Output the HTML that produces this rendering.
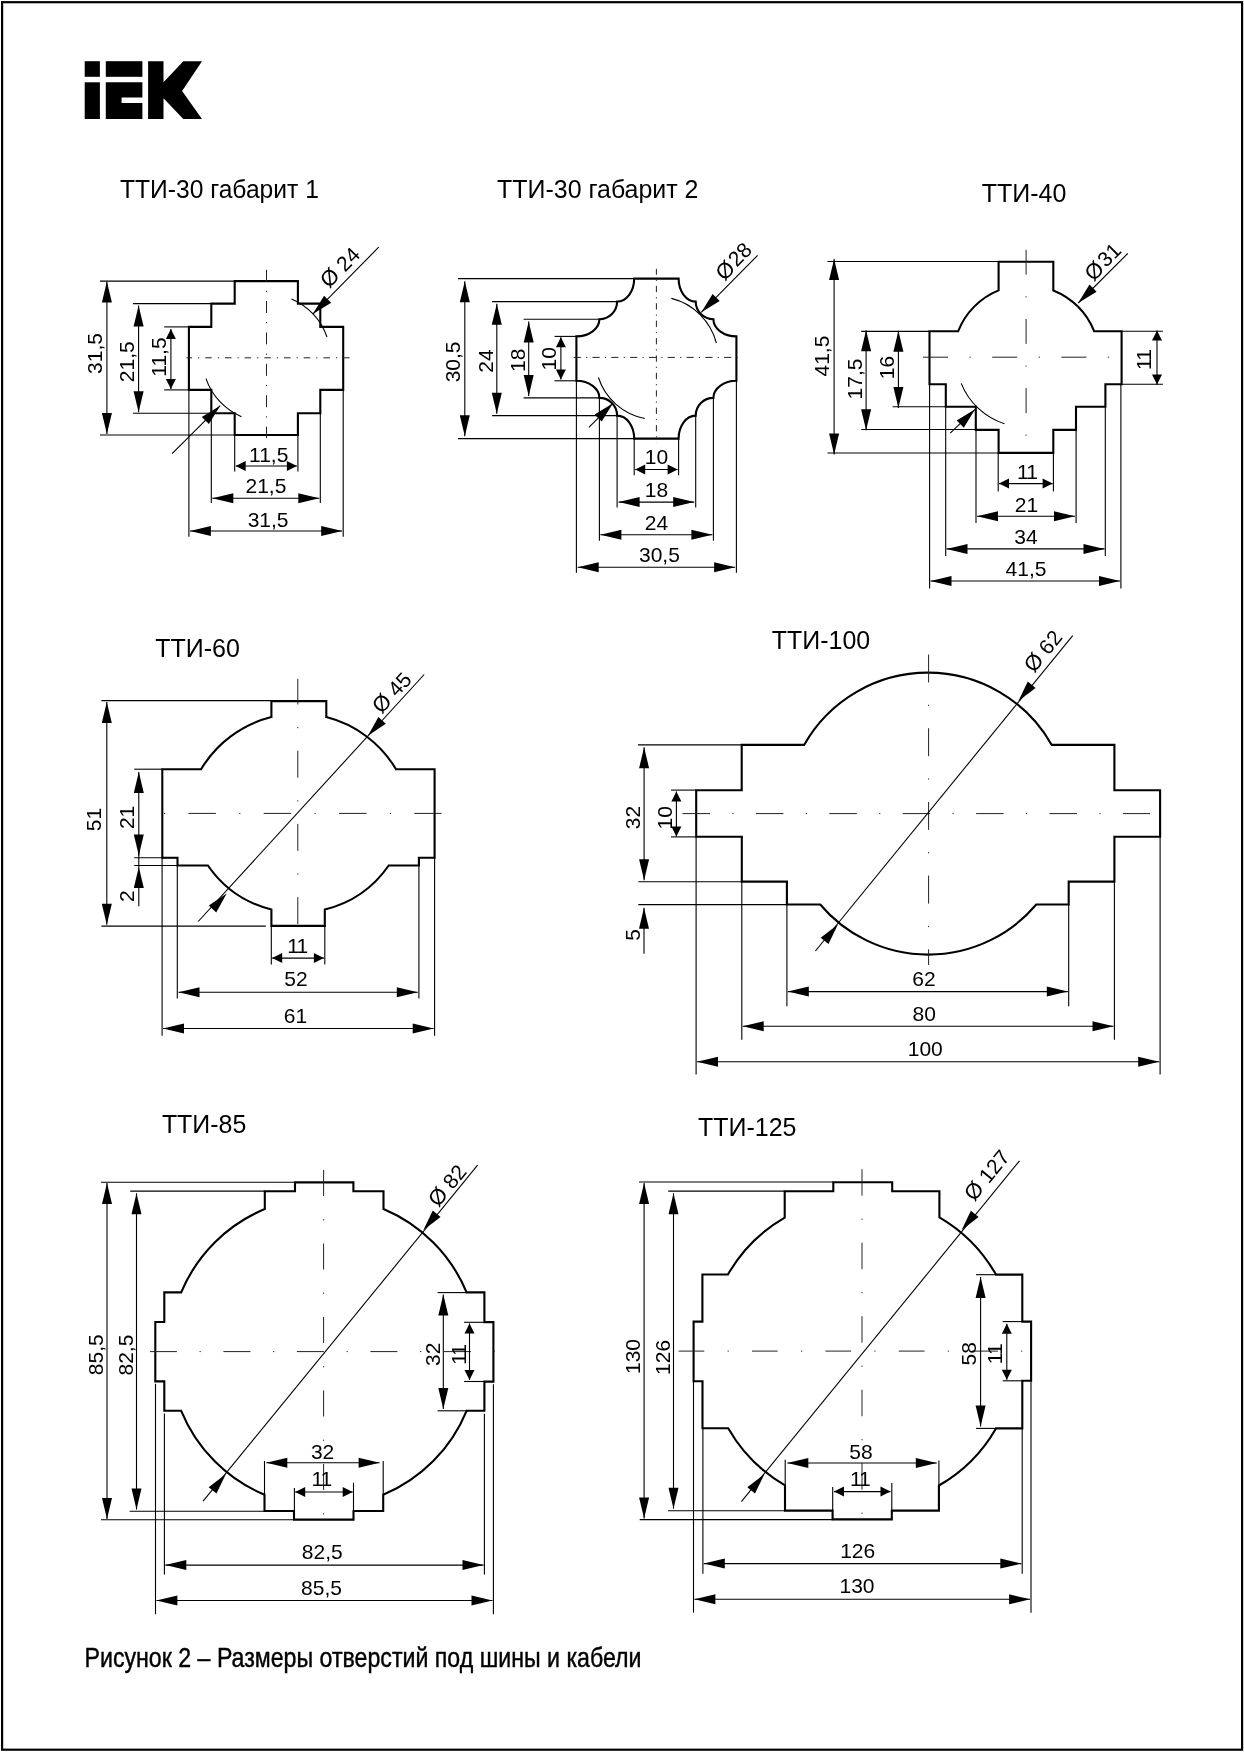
<!DOCTYPE html>
<html><head><meta charset="utf-8"><style>
html,body{margin:0;padding:0;background:#fff;}
svg{display:block;filter:grayscale(100%);}
text{font-family:"Liberation Sans",sans-serif;fill:#000;stroke:none;}
</style></head><body>
<svg width="1244" height="1752" viewBox="0 0 1244 1752">
<g stroke="#000" fill="none" stroke-linecap="butt">
<rect x="2.1" y="2.2" width="1240" height="1747.5" stroke-width="2.2"/>
<g fill="#000" stroke="none">
<rect x="84.7" y="61.2" width="15.2" height="15.6"/>
<rect x="84.7" y="82.3" width="15.2" height="36.7"/>
<rect x="105.8" y="61.2" width="36.6" height="15.6"/>
<path d="M105.8,82.3H142.4V97.6H121.6V103H142.4V119H105.8Z"/>
<path d="M148.1,61.2H163.5V82.3L183.3,61.2H202L182.1,91L202,119H183.3L163.5,98.2V119H148.1Z"/>
</g>
<text x="84.5" y="1667.1" font-size="28.3" textLength="557" lengthAdjust="spacingAndGlyphs" style="stroke:#000;stroke-width:0.45">Рисунок 2 – Размеры отверстий под шины и кабели</text>
<text x="120.0" y="197.9" font-size="26" textLength="198.9" lengthAdjust="spacingAndGlyphs">ТТИ-30 габарит 1</text>
<polygon points="234.7,281.1 297.9,281.1 297.9,303.6 320.3,303.6 320.3,326.9 343.2,326.9 343.2,389.9 320.3,389.9 320.3,413.3 297.9,413.3 297.9,435.0 234.7,435.0 234.7,413.3 211.3,413.3 211.3,389.9 188.9,389.9 188.9,326.9 211.3,326.9 211.3,303.6 234.7,303.6" stroke-width="2.1" fill="none"/>
<line x1="266.5" y1="269.8" x2="266.5" y2="438.0" stroke="#222" stroke-width="1.0" stroke-dasharray="12 9.1 1.2 9.1" stroke-dashoffset="-31.20"/>
<line x1="186.5" y1="357.8" x2="355.3" y2="357.8" stroke="#222" stroke-width="1.0" stroke-dasharray="6.5 6 1.2 6" stroke-dashoffset="-18.75"/>
<line x1="100.0" y1="281.1" x2="234.7" y2="281.1" stroke-width="1.1"/>
<line x1="100.0" y1="435.0" x2="234.7" y2="435.0" stroke-width="1.1"/>
<line x1="106.9" y1="281.6" x2="106.9" y2="434.0" stroke-width="1.1"/>
<polygon points="106.9,281.6 111.9,302.6 101.9,302.6" stroke="none" fill="#000"/>
<polygon points="106.9,434.0 101.9,413.0 111.9,413.0" stroke="none" fill="#000"/>
<line x1="132.9" y1="303.6" x2="211.3" y2="303.6" stroke-width="1.1"/>
<line x1="132.9" y1="413.3" x2="211.3" y2="413.3" stroke-width="1.1"/>
<line x1="138.6" y1="305.6" x2="138.6" y2="412.3" stroke-width="1.1"/>
<polygon points="138.6,305.6 143.6,326.6 133.6,326.6" stroke="none" fill="#000"/>
<polygon points="138.6,412.3 133.6,391.3 143.6,391.3" stroke="none" fill="#000"/>
<line x1="164.2" y1="326.9" x2="188.9" y2="326.9" stroke-width="1.1"/>
<line x1="164.2" y1="389.9" x2="188.9" y2="389.9" stroke-width="1.1"/>
<line x1="170.9" y1="328.9" x2="170.9" y2="388.9" stroke-width="1.1"/>
<polygon points="170.9,328.9 175.9,338.9 165.9,338.9" stroke="none" fill="#000"/>
<polygon points="170.9,388.9 165.9,378.9 175.9,378.9" stroke="none" fill="#000"/>
<text x="102.1" y="353.5" font-size="21" text-anchor="middle" transform="rotate(-90 102.1 353.5)">31,5</text>
<text x="133.9" y="361.7" font-size="21" text-anchor="middle" transform="rotate(-90 133.9 361.7)">21,5</text>
<text x="166.3" y="357.0" font-size="21" text-anchor="middle" transform="rotate(-90 166.3 357.0)">11,5</text>
<line x1="234.7" y1="435.0" x2="234.7" y2="471.6" stroke-width="1.1"/>
<line x1="297.9" y1="435.0" x2="297.9" y2="471.6" stroke-width="1.1"/>
<line x1="235.7" y1="466.0" x2="296.9" y2="466.0" stroke-width="1.1"/>
<polygon points="235.7,466.0 245.7,461.0 245.7,471.0" stroke="none" fill="#000"/>
<polygon points="296.9,466.0 286.9,471.0 286.9,461.0" stroke="none" fill="#000"/>
<line x1="211.3" y1="413.3" x2="211.3" y2="503.1" stroke-width="1.1"/>
<line x1="320.3" y1="413.3" x2="320.3" y2="503.1" stroke-width="1.1"/>
<line x1="212.3" y1="498.3" x2="319.3" y2="498.3" stroke-width="1.1"/>
<polygon points="212.3,498.3 233.3,493.3 233.3,503.3" stroke="none" fill="#000"/>
<polygon points="319.3,498.3 298.3,503.3 298.3,493.3" stroke="none" fill="#000"/>
<line x1="188.9" y1="389.9" x2="188.9" y2="536.7" stroke-width="1.1"/>
<line x1="343.2" y1="389.9" x2="343.2" y2="536.7" stroke-width="1.1"/>
<line x1="189.9" y1="531.0" x2="342.2" y2="531.0" stroke-width="1.1"/>
<polygon points="189.9,531.0 210.9,526.0 210.9,536.0" stroke="none" fill="#000"/>
<polygon points="342.2,531.0 321.2,536.0 321.2,526.0" stroke="none" fill="#000"/>
<text x="268.7" y="461.6" font-size="21" text-anchor="middle">11,5</text>
<text x="265.9" y="492.9" font-size="21" text-anchor="middle">21,5</text>
<text x="268.1" y="526.5" font-size="21" text-anchor="middle">31,5</text>
<path d="M291.5,298.9 A64.0,64.0 0 0 1 327.0,337.0" stroke-width="1.1" fill="none"/>
<path d="M241.5,416.7 A64.0,64.0 0 0 1 206.0,378.6" stroke-width="1.1" fill="none"/>
<line x1="378.7" y1="247.2" x2="312.8" y2="314.1" stroke-width="1.1"/>
<polygon points="312.8,314.1 324.1,295.7 331.2,302.8" stroke="none" fill="#000"/>
<line x1="172.1" y1="453.6" x2="220.2" y2="405.7" stroke-width="1.1"/>
<polygon points="220.2,405.7 208.9,424.1 201.8,417.0" stroke="none" fill="#000"/>
<text transform="translate(340.2,267.6) rotate(-45.4)" x="0" y="7" font-size="21" text-anchor="middle"><tspan font-size="22">Ø</tspan> 24</text>
<text x="497.1" y="198.3" font-size="26" textLength="201.4" lengthAdjust="spacingAndGlyphs">ТТИ-30 габарит 2</text>
<path d="M634.2,278.6 H678.6 A17.1,23.0 0 0 0 695.7,301.6 A17.7,17.7 0 0 0 713.4,319.3 A23.0,17.1 0 0 0 736.4,336.4 V380.8 A23.0,17.1 0 0 0 713.4,397.9 A17.7,17.7 0 0 0 695.7,415.6 A17.1,23.0 0 0 0 678.6,438.6 H634.2 A17.1,23.0 0 0 0 617.1,415.6 A17.7,17.7 0 0 0 599.4,397.9 A23.0,17.1 0 0 0 576.4,380.8 V336.4 A23.0,17.1 0 0 0 599.4,319.3 A17.7,17.7 0 0 0 617.1,301.6 A17.1,23.0 0 0 0 634.2,278.6 Z" stroke-width="2.1" fill="none"/>
<line x1="656.4" y1="268.9" x2="656.4" y2="442.6" stroke="#222" stroke-width="1.0" stroke-dasharray="6.3 4.95 1.2 4.95" stroke-dashoffset="-16.95"/>
<line x1="572.6" y1="357.4" x2="737.9" y2="357.4" stroke="#222" stroke-width="1.0" stroke-dasharray="7.2 5.2 1.2 5.2" stroke-dashoffset="-1.10"/>
<line x1="458.0" y1="278.6" x2="634.2" y2="278.6" stroke-width="1.1"/>
<line x1="458.0" y1="438.6" x2="634.2" y2="438.6" stroke-width="1.1"/>
<line x1="492.1" y1="301.6" x2="617.1" y2="301.6" stroke-width="1.1"/>
<line x1="492.1" y1="415.6" x2="617.1" y2="415.6" stroke-width="1.1"/>
<line x1="523.6" y1="319.3" x2="599.4" y2="319.3" stroke-width="1.1"/>
<line x1="523.6" y1="397.9" x2="599.4" y2="397.9" stroke-width="1.1"/>
<line x1="554.5" y1="336.4" x2="576.4" y2="336.4" stroke-width="1.1"/>
<line x1="554.5" y1="380.8" x2="576.4" y2="380.8" stroke-width="1.1"/>
<line x1="464.8" y1="281.2" x2="464.8" y2="436.2" stroke-width="1.1"/>
<polygon points="464.8,281.2 469.8,302.2 459.8,302.2" stroke="none" fill="#000"/>
<polygon points="464.8,436.2 459.8,415.2 469.8,415.2" stroke="none" fill="#000"/>
<line x1="496.8" y1="303.7" x2="496.8" y2="413.7" stroke-width="1.1"/>
<polygon points="496.8,303.7 501.8,324.7 491.8,324.7" stroke="none" fill="#000"/>
<polygon points="496.8,413.7 491.8,392.7 501.8,392.7" stroke="none" fill="#000"/>
<line x1="528.7" y1="321.5" x2="528.7" y2="396.1" stroke-width="1.1"/>
<polygon points="528.7,321.5 533.7,342.5 523.7,342.5" stroke="none" fill="#000"/>
<polygon points="528.7,396.1 523.7,375.1 533.7,375.1" stroke="none" fill="#000"/>
<line x1="560.9" y1="337.2" x2="560.9" y2="379.6" stroke-width="1.1"/>
<polygon points="560.9,337.2 565.9,347.2 555.9,347.2" stroke="none" fill="#000"/>
<polygon points="560.9,379.6 555.9,369.6 565.9,369.6" stroke="none" fill="#000"/>
<text x="460.0" y="361.9" font-size="21" text-anchor="middle" transform="rotate(-90 460.0 361.9)">30,5</text>
<text x="492.7" y="361.0" font-size="21" text-anchor="middle" transform="rotate(-90 492.7 361.0)">24</text>
<text x="524.9" y="360.3" font-size="21" text-anchor="middle" transform="rotate(-90 524.9 360.3)">18</text>
<text x="556.4" y="358.7" font-size="21" text-anchor="middle" transform="rotate(-90 556.4 358.7)">10</text>
<line x1="634.2" y1="438.6" x2="634.2" y2="475.2" stroke-width="1.1"/>
<line x1="678.6" y1="438.6" x2="678.6" y2="475.2" stroke-width="1.1"/>
<line x1="617.1" y1="415.6" x2="617.1" y2="507.4" stroke-width="1.1"/>
<line x1="695.7" y1="415.6" x2="695.7" y2="507.4" stroke-width="1.1"/>
<line x1="599.4" y1="397.9" x2="599.4" y2="540.7" stroke-width="1.1"/>
<line x1="713.4" y1="397.9" x2="713.4" y2="540.7" stroke-width="1.1"/>
<line x1="576.4" y1="380.8" x2="576.4" y2="572.8" stroke-width="1.1"/>
<line x1="736.4" y1="380.8" x2="736.4" y2="572.8" stroke-width="1.1"/>
<line x1="635.2" y1="469.5" x2="677.6" y2="469.5" stroke-width="1.1"/>
<polygon points="635.2,469.5 645.2,464.5 645.2,474.5" stroke="none" fill="#000"/>
<polygon points="677.6,469.5 667.6,474.5 667.6,464.5" stroke="none" fill="#000"/>
<line x1="618.6" y1="502.1" x2="694.2" y2="502.1" stroke-width="1.1"/>
<polygon points="618.6,502.1 639.6,497.1 639.6,507.1" stroke="none" fill="#000"/>
<polygon points="694.2,502.1 673.2,507.1 673.2,497.1" stroke="none" fill="#000"/>
<line x1="600.4" y1="534.7" x2="712.4" y2="534.7" stroke-width="1.1"/>
<polygon points="600.4,534.7 621.4,529.7 621.4,539.7" stroke="none" fill="#000"/>
<polygon points="712.4,534.7 691.4,539.7 691.4,529.7" stroke="none" fill="#000"/>
<line x1="577.7" y1="567.2" x2="735.1" y2="567.2" stroke-width="1.1"/>
<polygon points="577.7,567.2 598.7,562.2 598.7,572.2" stroke="none" fill="#000"/>
<polygon points="735.1,567.2 714.1,572.2 714.1,562.2" stroke="none" fill="#000"/>
<text x="656.4" y="464.3" font-size="21" text-anchor="middle">10</text>
<text x="656.4" y="497.3" font-size="21" text-anchor="middle">18</text>
<text x="656.4" y="530.2" font-size="21" text-anchor="middle">24</text>
<text x="659.4" y="561.6" font-size="21" text-anchor="middle">30,5</text>
<path d="M671.4,298.4 A62.0,62.0 0 0 1 716.4,343.0" stroke-width="1.1" fill="none"/>
<path d="M644.8,418.5 A61.0,61.0 0 0 1 598.4,377.5" stroke-width="1.1" fill="none"/>
<line x1="757.6" y1="255.4" x2="701.3" y2="312.3" stroke-width="1.1"/>
<polygon points="701.3,312.3 712.6,293.9 719.7,301.0" stroke="none" fill="#000"/>
<line x1="588.9" y1="427.3" x2="613.0" y2="403.2" stroke-width="1.1"/>
<polygon points="613.0,403.2 601.7,421.6 594.6,414.5" stroke="none" fill="#000"/>
<text transform="translate(734.2,261.9) rotate(-45.3)" x="0" y="7" font-size="21" text-anchor="middle"><tspan font-size="22">Ø</tspan><tspan dx="1.5" dy="-1">28</tspan></text>
<text x="981.7" y="202.4" font-size="26" textLength="84.7" lengthAdjust="spacingAndGlyphs">ТТИ-40</text>
<path d="M998.6,261.7 H1053.3 V290.4 A72.5,72.5 0 0 1 1094.1,331.2 H1121.6 V384.3 H1105.4 V406.7 H1076 V429.9 H1053.3 V452.9 H998.6 V429.9 H975.8 V406.7 H945.8 V384.3 H929.5 V331.2 H958.2 A72.5,72.5 0 0 1 998.6,290.4 Z" stroke-width="2.1" fill="none"/>
<line x1="1026.1" y1="249.8" x2="1026.1" y2="452.9" stroke="#222" stroke-width="1.0" stroke-dasharray="25 21.5 1.2 21.5" stroke-dashoffset="-69.10"/>
<line x1="919.8" y1="357.2" x2="1113.0" y2="357.2" stroke="#222" stroke-width="1.0" stroke-dasharray="25 21.5 1.2 21.5" stroke-dashoffset="-3.20"/>
<line x1="827.5" y1="261.5" x2="998.6" y2="261.5" stroke-width="1.1"/>
<line x1="827.5" y1="453.0" x2="998.6" y2="453.0" stroke-width="1.1"/>
<line x1="834.1" y1="259.0" x2="834.1" y2="454.5" stroke-width="1.1"/>
<polygon points="834.1,259.0 839.1,280.0 829.1,280.0" stroke="none" fill="#000"/>
<polygon points="834.1,454.5 829.1,433.5 839.1,433.5" stroke="none" fill="#000"/>
<line x1="861.2" y1="331.4" x2="929.5" y2="331.4" stroke-width="1.1"/>
<line x1="861.2" y1="429.5" x2="998.6" y2="429.5" stroke-width="1.1"/>
<line x1="866.1" y1="330.2" x2="866.1" y2="430.3" stroke-width="1.1"/>
<polygon points="866.1,330.2 871.1,351.2 861.1,351.2" stroke="none" fill="#000"/>
<polygon points="866.1,430.3 861.1,409.3 871.1,409.3" stroke="none" fill="#000"/>
<line x1="892.6" y1="406.8" x2="945.8" y2="406.8" stroke-width="1.1"/>
<line x1="898.4" y1="330.8" x2="898.4" y2="408.0" stroke-width="1.1"/>
<polygon points="898.4,330.8 903.4,351.8 893.4,351.8" stroke="none" fill="#000"/>
<polygon points="898.4,408.0 893.4,387.0 903.4,387.0" stroke="none" fill="#000"/>
<text x="829.3" y="356.1" font-size="21" text-anchor="middle" transform="rotate(-90 829.3 356.1)">41,5</text>
<text x="861.9" y="379.0" font-size="21" text-anchor="middle" transform="rotate(-90 861.9 379.0)">17,5</text>
<text x="893.8" y="367.5" font-size="21" text-anchor="middle" transform="rotate(-90 893.8 367.5)">16</text>
<line x1="1121.6" y1="331.2" x2="1162.9" y2="331.2" stroke-width="1.1"/>
<line x1="1121.6" y1="384.3" x2="1162.9" y2="384.3" stroke-width="1.1"/>
<line x1="1157.0" y1="330.5" x2="1157.0" y2="384.5" stroke-width="1.1"/>
<polygon points="1157.0,330.5 1162.0,340.5 1152.0,340.5" stroke="none" fill="#000"/>
<polygon points="1157.0,384.5 1152.0,374.5 1162.0,374.5" stroke="none" fill="#000"/>
<text x="1151.4" y="360.5" font-size="21" text-anchor="middle" transform="rotate(-90 1150.9 360.5)" letter-spacing="-1">11</text>
<line x1="998.2" y1="452.9" x2="998.2" y2="491.5" stroke-width="1.1"/>
<line x1="1053.4" y1="452.9" x2="1053.4" y2="491.5" stroke-width="1.1"/>
<line x1="999.0" y1="483.6" x2="1052.6" y2="483.6" stroke-width="1.1"/>
<polygon points="999.0,483.6 1009.0,478.6 1009.0,488.6" stroke="none" fill="#000"/>
<polygon points="1052.6,483.6 1042.6,488.6 1042.6,478.6" stroke="none" fill="#000"/>
<line x1="976.0" y1="429.9" x2="976.0" y2="523.1" stroke-width="1.1"/>
<line x1="1076.1" y1="429.9" x2="1076.1" y2="523.1" stroke-width="1.1"/>
<line x1="977.0" y1="516.3" x2="1075.0" y2="516.3" stroke-width="1.1"/>
<polygon points="977.0,516.3 998.0,511.3 998.0,521.3" stroke="none" fill="#000"/>
<polygon points="1075.0,516.3 1054.0,521.3 1054.0,511.3" stroke="none" fill="#000"/>
<line x1="945.7" y1="406.7" x2="945.7" y2="556.1" stroke-width="1.1"/>
<line x1="1105.3" y1="406.7" x2="1105.3" y2="556.1" stroke-width="1.1"/>
<line x1="946.5" y1="548.9" x2="1104.5" y2="548.9" stroke-width="1.1"/>
<polygon points="946.5,548.9 967.5,543.9 967.5,553.9" stroke="none" fill="#000"/>
<polygon points="1104.5,548.9 1083.5,553.9 1083.5,543.9" stroke="none" fill="#000"/>
<line x1="929.6" y1="384.3" x2="929.6" y2="588.5" stroke-width="1.1"/>
<line x1="1120.9" y1="384.3" x2="1120.9" y2="588.5" stroke-width="1.1"/>
<line x1="930.5" y1="581.0" x2="1120.0" y2="581.0" stroke-width="1.1"/>
<polygon points="930.5,581.0 951.5,576.0 951.5,586.0" stroke="none" fill="#000"/>
<polygon points="1120.0,581.0 1099.0,586.0 1099.0,576.0" stroke="none" fill="#000"/>
<text x="1027.0" y="479.2" font-size="21" text-anchor="middle" letter-spacing="-1">11</text>
<text x="1026.5" y="511.7" font-size="21" text-anchor="middle">21</text>
<text x="1026.0" y="544.3" font-size="21" text-anchor="middle">34</text>
<text x="1026.0" y="576.4" font-size="21" text-anchor="middle">41,5</text>
<path d="M1004.5,423.8 A70.0,70.0 0 0 1 961.2,383.4" stroke-width="1.1" fill="none"/>
<line x1="1127.7" y1="253.5" x2="1078.2" y2="303.0" stroke-width="1.1"/>
<polygon points="1078.2,303.0 1089.5,284.6 1096.6,291.7" stroke="none" fill="#000"/>
<line x1="950.2" y1="433.2" x2="975.1" y2="409.3" stroke-width="1.1"/>
<polygon points="975.1,409.3 963.8,427.7 956.7,420.6" stroke="none" fill="#000"/>
<text transform="translate(1103.4,262.4) rotate(-45)" x="0" y="7" font-size="21" text-anchor="middle"><tspan font-size="22">Ø</tspan><tspan dx="1.5" dy="-1">31</tspan></text>
<text x="155.2" y="657" font-size="26" textLength="84.7" lengthAdjust="spacingAndGlyphs">ТТИ-60</text>
<path d="M271.4,701.1 H326.3 V717.1 A114,114 0 0 1 396,769.2 H434.6 V857.7 H418.9 V865.5 H388.7 A109.4,109.4 0 0 1 324.8,909.5 V925.9 H271.4 V909.5 A109.4,109.4 0 0 1 207.9,865.5 H177.5 V857.7 H162.3 V769.2 H201.1 A114,114 0 0 1 271.4,717.1 Z" stroke-width="2.1" fill="none"/>
<line x1="297.8" y1="678.8" x2="297.8" y2="926.0" stroke="#222" stroke-width="1.0" stroke-dasharray="27 22.5 1.2 22.5" stroke-dashoffset="-71.90"/>
<line x1="160.0" y1="813.4" x2="441.6" y2="813.4" stroke="#222" stroke-width="1.0" stroke-dasharray="27.5 23.3 1.2 23.3" stroke-dashoffset="-28.40"/>
<line x1="101.4" y1="700.6" x2="271.4" y2="700.6" stroke-width="1.1"/>
<line x1="101.4" y1="926.1" x2="265.8" y2="926.1" stroke-width="1.1"/>
<line x1="106.8" y1="702.1" x2="106.8" y2="924.7" stroke-width="1.1"/>
<polygon points="106.8,702.1 111.8,723.1 101.8,723.1" stroke="none" fill="#000"/>
<polygon points="106.8,924.7 101.8,903.7 111.8,903.7" stroke="none" fill="#000"/>
<line x1="134.2" y1="769.2" x2="162.3" y2="769.2" stroke-width="1.1"/>
<line x1="134.2" y1="857.7" x2="177.5" y2="857.7" stroke-width="1.1"/>
<line x1="134.2" y1="865.5" x2="177.5" y2="865.5" stroke-width="1.1"/>
<line x1="138.8" y1="772.0" x2="138.8" y2="855.5" stroke-width="1.1"/>
<polygon points="138.8,772.0 143.8,793.0 133.8,793.0" stroke="none" fill="#000"/>
<polygon points="138.8,855.5 133.8,834.5 143.8,834.5" stroke="none" fill="#000"/>
<line x1="138.8" y1="850.0" x2="138.8" y2="906.2" stroke-width="1.1"/>
<polygon points="138.8,866.9 143.8,887.9 133.8,887.9" stroke="none" fill="#000"/>
<text x="100.7" y="819.5" font-size="21" text-anchor="middle" transform="rotate(-90 100.7 819.5)">51</text>
<text x="134.2" y="817.4" font-size="21" text-anchor="middle" transform="rotate(-90 134.2 817.4)">21</text>
<text x="134.2" y="896.2" font-size="21" text-anchor="middle" transform="rotate(-90 134.2 896.2)">2</text>
<line x1="271.3" y1="925.9" x2="271.3" y2="964.6" stroke-width="1.1"/>
<line x1="324.8" y1="925.9" x2="324.8" y2="964.6" stroke-width="1.1"/>
<line x1="272.2" y1="958.1" x2="323.9" y2="958.1" stroke-width="1.1"/>
<polygon points="272.2,958.1 282.2,953.1 282.2,963.1" stroke="none" fill="#000"/>
<polygon points="323.9,958.1 313.9,963.1 313.9,953.1" stroke="none" fill="#000"/>
<line x1="177.3" y1="865.5" x2="177.3" y2="998.4" stroke-width="1.1"/>
<line x1="418.9" y1="857.7" x2="418.9" y2="998.4" stroke-width="1.1"/>
<line x1="178.5" y1="992.3" x2="417.8" y2="992.3" stroke-width="1.1"/>
<polygon points="178.5,992.3 199.5,987.3 199.5,997.3" stroke="none" fill="#000"/>
<polygon points="417.8,992.3 396.8,997.3 396.8,987.3" stroke="none" fill="#000"/>
<line x1="162.1" y1="857.7" x2="162.1" y2="1035.8" stroke-width="1.1"/>
<line x1="434.6" y1="857.7" x2="434.6" y2="1035.8" stroke-width="1.1"/>
<line x1="163.0" y1="1028.5" x2="433.7" y2="1028.5" stroke-width="1.1"/>
<polygon points="163.0,1028.5 184.0,1023.5 184.0,1033.5" stroke="none" fill="#000"/>
<polygon points="433.7,1028.5 412.7,1033.5 412.7,1023.5" stroke="none" fill="#000"/>
<text x="297.2" y="952.6" font-size="21" text-anchor="middle" letter-spacing="-1">11</text>
<text x="295.9" y="986.3" font-size="21" text-anchor="middle">52</text>
<text x="295.5" y="1022.5" font-size="21" text-anchor="middle">61</text>
<line x1="424.2" y1="674.5" x2="198.2" y2="921.5" stroke-width="1.1"/>
<polygon points="367.9,735.8 378.4,716.9 385.8,723.7" stroke="none" fill="#000"/>
<polygon points="226.7,893.5 216.2,912.4 208.8,905.6" stroke="none" fill="#000"/>
<text transform="translate(392.0,692.9) rotate(-47.5)" x="0" y="7" font-size="21" text-anchor="middle"><tspan font-size="22">Ø</tspan> 45</text>
<text x="771.8" y="648.5" font-size="26" textLength="98.4" lengthAdjust="spacingAndGlyphs">ТТИ-100</text>
<path d="M741.7,744.9 H804.1 A142.2,142.2 0 0 1 1051.7,744.9 H1114.4 V790.2 H1160.1 V836.8 H1114.4 V881.6 H1068.7 V904.5 H1036.3 A141.5,141.5 0 0 1 820.2,904.5 H786.9 V881.6 H741.8 V836.8 H696.2 V790.2 H741.7 Z" stroke-width="2.1" fill="none"/>
<line x1="928.6" y1="654.5" x2="928.6" y2="965.0" stroke="#222" stroke-width="1.0" stroke-dasharray="28 22.25 1.2 22.25" stroke-dashoffset="-0.00"/>
<line x1="682.5" y1="813.6" x2="1150.0" y2="813.6" stroke="#222" stroke-width="1.0" stroke-dasharray="27.5 22.35 1.2 22.35" stroke-dashoffset="-0.00"/>
<line x1="638.0" y1="744.9" x2="741.7" y2="744.9" stroke-width="1.1"/>
<line x1="638.3" y1="881.8" x2="741.8" y2="881.8" stroke-width="1.1"/>
<line x1="644.1" y1="747.2" x2="644.1" y2="880.3" stroke-width="1.1"/>
<polygon points="644.1,747.2 649.1,768.2 639.1,768.2" stroke="none" fill="#000"/>
<polygon points="644.1,880.3 639.1,859.3 649.1,859.3" stroke="none" fill="#000"/>
<line x1="671.0" y1="790.1" x2="696.2" y2="790.1" stroke-width="1.1"/>
<line x1="671.0" y1="836.9" x2="696.2" y2="836.9" stroke-width="1.1"/>
<line x1="676.4" y1="791.5" x2="676.4" y2="836.4" stroke-width="1.1"/>
<polygon points="676.4,791.5 681.4,801.5 671.4,801.5" stroke="none" fill="#000"/>
<polygon points="676.4,836.4 671.4,826.4 681.4,826.4" stroke="none" fill="#000"/>
<line x1="638.3" y1="904.6" x2="786.9" y2="904.6" stroke-width="1.1"/>
<line x1="644.0" y1="907.7" x2="644.0" y2="953.7" stroke-width="1.1"/>
<polygon points="644.0,907.7 649.0,928.7 639.0,928.7" stroke="none" fill="#000"/>
<text x="640.1" y="817.5" font-size="21" text-anchor="middle" transform="rotate(-90 640.1 817.5)">32</text>
<text x="671.9" y="817.7" font-size="21" text-anchor="middle" transform="rotate(-90 671.9 817.7)">10</text>
<text x="640.1" y="935.0" font-size="21" text-anchor="middle" transform="rotate(-90 640.1 935.0)">5</text>
<line x1="696.1" y1="836.8" x2="696.1" y2="1074.6" stroke-width="1.1"/>
<line x1="1160.1" y1="836.8" x2="1160.1" y2="1074.6" stroke-width="1.1"/>
<line x1="741.8" y1="881.6" x2="741.8" y2="1039.7" stroke-width="1.1"/>
<line x1="1114.4" y1="881.6" x2="1114.4" y2="1039.7" stroke-width="1.1"/>
<line x1="786.9" y1="904.5" x2="786.9" y2="1006.3" stroke-width="1.1"/>
<line x1="1068.7" y1="904.5" x2="1068.7" y2="1006.3" stroke-width="1.1"/>
<line x1="787.8" y1="991.6" x2="1067.8" y2="991.6" stroke-width="1.1"/>
<polygon points="787.8,991.6 808.8,986.6 808.8,996.6" stroke="none" fill="#000"/>
<polygon points="1067.8,991.6 1046.8,996.6 1046.8,986.6" stroke="none" fill="#000"/>
<line x1="742.7" y1="1026.2" x2="1113.5" y2="1026.2" stroke-width="1.1"/>
<polygon points="742.7,1026.2 763.7,1021.2 763.7,1031.2" stroke="none" fill="#000"/>
<polygon points="1113.5,1026.2 1092.5,1031.2 1092.5,1021.2" stroke="none" fill="#000"/>
<line x1="697.0" y1="1061.8" x2="1159.2" y2="1061.8" stroke-width="1.1"/>
<polygon points="697.0,1061.8 718.0,1056.8 718.0,1066.8" stroke="none" fill="#000"/>
<polygon points="1159.2,1061.8 1138.2,1066.8 1138.2,1056.8" stroke="none" fill="#000"/>
<text x="924.0" y="986.1" font-size="21" text-anchor="middle">62</text>
<text x="924.2" y="1020.7" font-size="21" text-anchor="middle">80</text>
<text x="925.3" y="1056.1" font-size="21" text-anchor="middle">100</text>
<line x1="1072.7" y1="635.6" x2="815.4" y2="951.0" stroke-width="1.1"/>
<polygon points="1018.4,701.0 1027.8,681.6 1035.6,687.9" stroke="none" fill="#000"/>
<polygon points="837.9,924.6 828.5,944.0 820.7,937.7" stroke="none" fill="#000"/>
<text transform="translate(1043.3,651.3) rotate(-50.7)" x="0" y="7" font-size="21" text-anchor="middle"><tspan font-size="22">Ø</tspan> 62</text>
<text x="161.9" y="1133" font-size="26" textLength="84.4" lengthAdjust="spacingAndGlyphs">ТТИ-85</text>
<path d="M295,1182.4 H353.4 V1191.2 H383.5 V1209 A154.6,154.6 0 0 1 466.6,1292.4 H484.4 V1322.1 H493.4 V1381.6 H484.4 V1410.8 H466.6 A154.6,154.6 0 0 1 383.2,1494.8 V1511 H353.5 V1519.6 H294 V1511 H264.5 V1494.8 A154.6,154.6 0 0 1 181.2,1410.8 H164.3 V1381.4 H155.3 V1322 H164.3 V1292.4 H181.2 A154.6,154.6 0 0 1 264.8,1209 V1191.2 H295 Z" stroke-width="2.1" fill="none"/>
<line x1="323.6" y1="1170.0" x2="323.6" y2="1520.0" stroke="#222" stroke-width="1.0" stroke-dasharray="26 23.15 1.2 23.15" stroke-dashoffset="-0.00"/>
<line x1="149.9" y1="1351.6" x2="496.0" y2="1351.6" stroke="#222" stroke-width="1.0" stroke-dasharray="27 22.65 1.2 22.65" stroke-dashoffset="-0.00"/>
<line x1="101.1" y1="1182.2" x2="295.0" y2="1182.2" stroke-width="1.1"/>
<line x1="101.0" y1="1519.7" x2="294.0" y2="1519.7" stroke-width="1.1"/>
<line x1="107.0" y1="1183.1" x2="107.0" y2="1518.9" stroke-width="1.1"/>
<polygon points="107.0,1183.1 112.0,1204.1 102.0,1204.1" stroke="none" fill="#000"/>
<polygon points="107.0,1518.9 102.0,1497.9 112.0,1497.9" stroke="none" fill="#000"/>
<line x1="130.2" y1="1191.1" x2="264.8" y2="1191.1" stroke-width="1.1"/>
<line x1="129.7" y1="1511.2" x2="264.5" y2="1511.2" stroke-width="1.1"/>
<line x1="136.5" y1="1193.2" x2="136.5" y2="1509.6" stroke-width="1.1"/>
<polygon points="136.5,1193.2 141.5,1214.2 131.5,1214.2" stroke="none" fill="#000"/>
<polygon points="136.5,1509.6 131.5,1488.6 141.5,1488.6" stroke="none" fill="#000"/>
<text x="103.2" y="1354.7" font-size="21" text-anchor="middle" transform="rotate(-90 103.2 1354.7)">85,5</text>
<text x="133.0" y="1355.1" font-size="21" text-anchor="middle" transform="rotate(-90 133.0 1355.1)">82,5</text>
<line x1="437.6" y1="1292.6" x2="466.6" y2="1292.6" stroke-width="1.1"/>
<line x1="437.6" y1="1410.8" x2="466.6" y2="1410.8" stroke-width="1.1"/>
<line x1="443.3" y1="1294.6" x2="443.3" y2="1408.9" stroke-width="1.1"/>
<polygon points="443.3,1294.6 448.3,1315.6 438.3,1315.6" stroke="none" fill="#000"/>
<polygon points="443.3,1408.9 438.3,1387.9 448.3,1387.9" stroke="none" fill="#000"/>
<line x1="464.1" y1="1322.3" x2="484.4" y2="1322.3" stroke-width="1.1"/>
<line x1="464.1" y1="1381.5" x2="484.4" y2="1381.5" stroke-width="1.1"/>
<line x1="469.5" y1="1323.5" x2="469.5" y2="1380.0" stroke-width="1.1"/>
<polygon points="469.5,1323.5 474.5,1333.5 464.5,1333.5" stroke="none" fill="#000"/>
<polygon points="469.5,1380.0 464.5,1370.0 474.5,1370.0" stroke="none" fill="#000"/>
<text x="440.0" y="1354.2" font-size="21" text-anchor="middle" transform="rotate(-90 440.0 1354.2)">32</text>
<text x="466.1" y="1355.4" font-size="21" text-anchor="middle" transform="rotate(-90 465.6 1355.4)" letter-spacing="-1">11</text>
<line x1="264.5" y1="1494.8" x2="264.5" y2="1461.0" stroke-width="1.1"/>
<line x1="383.2" y1="1494.8" x2="383.2" y2="1461.0" stroke-width="1.1"/>
<line x1="266.3" y1="1462.8" x2="379.6" y2="1462.8" stroke-width="1.1"/>
<polygon points="266.3,1462.8 287.3,1457.8 287.3,1467.8" stroke="none" fill="#000"/>
<polygon points="379.6,1462.8 358.6,1467.8 358.6,1457.8" stroke="none" fill="#000"/>
<line x1="294.4" y1="1511.0" x2="294.4" y2="1488.1" stroke-width="1.1"/>
<line x1="353.5" y1="1511.0" x2="353.5" y2="1482.7" stroke-width="1.1"/>
<line x1="295.2" y1="1492.0" x2="352.7" y2="1492.0" stroke-width="1.1"/>
<polygon points="295.2,1492.0 305.2,1487.0 305.2,1497.0" stroke="none" fill="#000"/>
<polygon points="352.7,1492.0 342.7,1497.0 342.7,1487.0" stroke="none" fill="#000"/>
<text x="322.6" y="1459.2" font-size="21" text-anchor="middle">32</text>
<text x="321.3" y="1485.7" font-size="21" text-anchor="middle" letter-spacing="-1">11</text>
<line x1="164.4" y1="1413.4" x2="164.4" y2="1574.6" stroke-width="1.1"/>
<line x1="484.4" y1="1413.7" x2="484.4" y2="1574.6" stroke-width="1.1"/>
<line x1="165.3" y1="1565.1" x2="483.5" y2="1565.1" stroke-width="1.1"/>
<polygon points="165.3,1565.1 186.3,1560.1 186.3,1570.1" stroke="none" fill="#000"/>
<polygon points="483.5,1565.1 462.5,1570.1 462.5,1560.1" stroke="none" fill="#000"/>
<line x1="155.5" y1="1383.8" x2="155.5" y2="1614.2" stroke-width="1.1"/>
<line x1="493.4" y1="1384.3" x2="493.4" y2="1614.2" stroke-width="1.1"/>
<line x1="156.4" y1="1600.5" x2="492.5" y2="1600.5" stroke-width="1.1"/>
<polygon points="156.4,1600.5 177.4,1595.5 177.4,1605.5" stroke="none" fill="#000"/>
<polygon points="492.5,1600.5 471.5,1605.5 471.5,1595.5" stroke="none" fill="#000"/>
<text x="322.3" y="1558.9" font-size="21" text-anchor="middle">82,5</text>
<text x="321.5" y="1594.5" font-size="21" text-anchor="middle">85,5</text>
<line x1="477.6" y1="1165.2" x2="203.1" y2="1501.1" stroke-width="1.1"/>
<polygon points="423.4,1230.0 432.8,1210.6 440.6,1216.9" stroke="none" fill="#000"/>
<polygon points="225.9,1474.1 216.5,1493.5 208.7,1487.2" stroke="none" fill="#000"/>
<text transform="translate(447.5,1185.7) rotate(-50.7)" x="0" y="7" font-size="21" text-anchor="middle"><tspan font-size="22">Ø</tspan> 82</text>
<text x="698.0" y="1136.3" font-size="26" textLength="98.4" lengthAdjust="spacingAndGlyphs">ТТИ-125</text>
<path d="M833.3,1182.3 H892.2 V1191.2 H939.4 V1217.3 A154.5,154.5 0 0 1 996,1274.6 H1022.3 V1321.6 H1031.1 V1380.8 H1022.3 V1428.4 H996 A154.5,154.5 0 0 1 938.9,1485.5 V1510.6 H891.8 V1519.4 H832.6 V1510.6 H785 V1485.4 A154.5,154.5 0 0 1 728.2,1428.3 H702.5 V1381.2 H693.6 V1321.6 H702.4 V1274.5 H727.9 A154.5,154.5 0 0 1 784.7,1217.6 V1191.2 H833.3 Z" stroke-width="2.1" fill="none"/>
<line x1="862.0" y1="1169.2" x2="862.0" y2="1520.0" stroke="#222" stroke-width="1.0" stroke-dasharray="26.5 22.9 1.2 22.9" stroke-dashoffset="-0.00"/>
<line x1="678.6" y1="1351.1" x2="1035.0" y2="1351.1" stroke="#222" stroke-width="1.0" stroke-dasharray="25.7 23.25 1.2 23.25" stroke-dashoffset="-0.00"/>
<line x1="639.0" y1="1182.0" x2="833.3" y2="1182.0" stroke-width="1.1"/>
<line x1="639.7" y1="1519.6" x2="832.6" y2="1519.6" stroke-width="1.1"/>
<line x1="644.1" y1="1183.1" x2="644.1" y2="1518.4" stroke-width="1.1"/>
<polygon points="644.1,1183.1 649.1,1204.1 639.1,1204.1" stroke="none" fill="#000"/>
<polygon points="644.1,1518.4 639.1,1497.4 649.1,1497.4" stroke="none" fill="#000"/>
<line x1="668.2" y1="1191.1" x2="784.7" y2="1191.1" stroke-width="1.1"/>
<line x1="668.0" y1="1510.7" x2="785.0" y2="1510.7" stroke-width="1.1"/>
<line x1="673.5" y1="1193.2" x2="673.5" y2="1508.7" stroke-width="1.1"/>
<polygon points="673.5,1193.2 678.5,1214.2 668.5,1214.2" stroke="none" fill="#000"/>
<polygon points="673.5,1508.7 668.5,1487.7 678.5,1487.7" stroke="none" fill="#000"/>
<text x="640.0" y="1356.5" font-size="21" text-anchor="middle" transform="rotate(-90 640.0 1356.5)">130</text>
<text x="669.7" y="1357.4" font-size="21" text-anchor="middle" transform="rotate(-90 669.7 1357.4)">126</text>
<line x1="976.0" y1="1274.7" x2="996.0" y2="1274.7" stroke-width="1.1"/>
<line x1="976.0" y1="1428.4" x2="996.0" y2="1428.4" stroke-width="1.1"/>
<line x1="980.6" y1="1277.0" x2="980.6" y2="1426.4" stroke-width="1.1"/>
<polygon points="980.6,1277.0 985.6,1298.0 975.6,1298.0" stroke="none" fill="#000"/>
<polygon points="980.6,1426.4 975.6,1405.4 985.6,1405.4" stroke="none" fill="#000"/>
<line x1="1002.7" y1="1321.6" x2="1022.3" y2="1321.6" stroke-width="1.1"/>
<line x1="1002.7" y1="1380.8" x2="1022.3" y2="1380.8" stroke-width="1.1"/>
<line x1="1006.8" y1="1323.7" x2="1006.8" y2="1379.7" stroke-width="1.1"/>
<polygon points="1006.8,1323.7 1011.8,1333.7 1001.8,1333.7" stroke="none" fill="#000"/>
<polygon points="1006.8,1379.7 1001.8,1369.7 1011.8,1369.7" stroke="none" fill="#000"/>
<text x="976.5" y="1353.8" font-size="21" text-anchor="middle" transform="rotate(-90 976.5 1353.8)">58</text>
<text x="1002.7" y="1354.8" font-size="21" text-anchor="middle" transform="rotate(-90 1002.2 1354.8)" letter-spacing="-1">11</text>
<line x1="785.2" y1="1485.5" x2="785.2" y2="1459.7" stroke-width="1.1"/>
<line x1="938.9" y1="1485.5" x2="938.9" y2="1460.5" stroke-width="1.1"/>
<line x1="787.3" y1="1463.0" x2="936.8" y2="1463.0" stroke-width="1.1"/>
<polygon points="787.3,1463.0 808.3,1458.0 808.3,1468.0" stroke="none" fill="#000"/>
<polygon points="936.8,1463.0 915.8,1468.0 915.8,1458.0" stroke="none" fill="#000"/>
<line x1="832.7" y1="1510.5" x2="832.7" y2="1487.1" stroke-width="1.1"/>
<line x1="891.8" y1="1510.5" x2="891.8" y2="1483.1" stroke-width="1.1"/>
<line x1="834.0" y1="1491.6" x2="890.5" y2="1491.6" stroke-width="1.1"/>
<polygon points="834.0,1491.6 844.0,1486.6 844.0,1496.6" stroke="none" fill="#000"/>
<polygon points="890.5,1491.6 880.5,1496.6 880.5,1486.6" stroke="none" fill="#000"/>
<text x="860.9" y="1458.9" font-size="21" text-anchor="middle">58</text>
<text x="859.8" y="1485.5" font-size="21" text-anchor="middle" letter-spacing="-1">11</text>
<line x1="702.9" y1="1428.3" x2="702.9" y2="1573.7" stroke-width="1.1"/>
<line x1="1022.2" y1="1428.4" x2="1022.2" y2="1573.7" stroke-width="1.1"/>
<line x1="703.8" y1="1563.6" x2="1021.3" y2="1563.6" stroke-width="1.1"/>
<polygon points="703.8,1563.6 724.8,1558.6 724.8,1568.6" stroke="none" fill="#000"/>
<polygon points="1021.3,1563.6 1000.3,1568.6 1000.3,1558.6" stroke="none" fill="#000"/>
<line x1="693.5" y1="1381.2" x2="693.5" y2="1612.7" stroke-width="1.1"/>
<line x1="1031.0" y1="1380.8" x2="1031.0" y2="1612.7" stroke-width="1.1"/>
<line x1="694.4" y1="1599.3" x2="1030.1" y2="1599.3" stroke-width="1.1"/>
<polygon points="694.4,1599.3 715.4,1594.3 715.4,1604.3" stroke="none" fill="#000"/>
<polygon points="1030.1,1599.3 1009.1,1604.3 1009.1,1594.3" stroke="none" fill="#000"/>
<text x="857.7" y="1557.7" font-size="21" text-anchor="middle">126</text>
<text x="857.0" y="1593.4" font-size="21" text-anchor="middle">130</text>
<line x1="1019.5" y1="1160.9" x2="741.4" y2="1501.6" stroke-width="1.1"/>
<polygon points="961.5,1230.2 970.9,1210.8 978.6,1217.1" stroke="none" fill="#000"/>
<polygon points="764.4,1474.2 755.0,1493.6 747.3,1487.3" stroke="none" fill="#000"/>
<text transform="translate(987.1,1175.4) rotate(-50.8)" x="0" y="7" font-size="21" text-anchor="middle"><tspan font-size="22">Ø</tspan> 127</text>
</g></svg></body></html>
